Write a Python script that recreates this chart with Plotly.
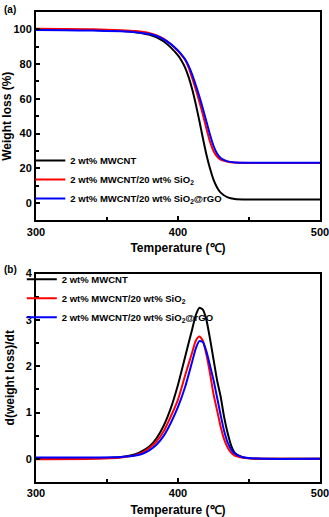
import plotly.graph_objects as go
from plotly.subplots import make_subplots

# ---- TGA (panel a) ----
TGA_T = [300, 320, 340, 360, 370, 380, 385, 390, 395, 400, 402.5, 405, 407.5, 410, 412.5,
         415, 417.5, 420, 422.5, 425, 427.5, 430, 435, 440, 450, 475, 500]
TGA_MWCNT = [100.0, 99.9, 99.6, 99.0, 98.4, 96.9, 95.4, 93.0, 89.5, 85.0, 82.0, 78.0, 72.5, 65.5, 57.0,
             47.5, 37.5, 28.0, 20.0, 13.5, 9.0, 6.0, 3.3, 2.4, 2.1, 2.0, 2.0]
TGA_SIO2 = [100.3, 100.2, 100.0, 99.5, 99.0, 97.8, 96.5, 94.5, 91.5, 87.5, 85.2, 82.5, 78.0, 72.0, 65.5,
            58.5, 51.0, 43.0, 35.5, 30.0, 26.8, 25.0, 23.8, 23.3, 23.1, 23.0, 23.0]
TGA_RGO = [99.6, 99.5, 99.3, 98.9, 98.4, 97.3, 96.2, 94.3, 91.5, 87.8, 85.5, 82.8, 79.0, 74.0, 68.0,
           61.5, 54.5, 47.0, 39.5, 33.0, 28.5, 26.0, 24.0, 23.4, 23.2, 23.2, 23.2]

# ---- DTG (panel b) ----
DTG_T = [300, 340, 360, 370, 375, 380, 385, 390, 395, 400, 405, 410, 412.5, 415, 417.5, 420,
         422.5, 425, 427.5, 430, 432.5, 435, 437.5, 440, 445, 450, 460, 500]
DTG_MWCNT = [0.0, 0.01, 0.04, 0.10, 0.17, 0.27, 0.45, 0.72, 1.10, 1.60, 2.20, 2.80, 3.10, 3.26, 3.22, 3.00,
             2.60, 2.15, 1.70, 1.35, 0.90, 0.55, 0.28, 0.13, 0.04, 0.01, 0.0, 0.0]
DTG_SIO2 = [-0.01, 0.0, 0.03, 0.08, 0.14, 0.24, 0.38, 0.60, 0.92, 1.28, 1.80, 2.30, 2.55, 2.64, 2.55, 2.25,
            1.85, 1.40, 1.05, 0.70, 0.42, 0.24, 0.13, 0.07, 0.03, 0.01, 0.0, 0.0]
DTG_RGO = [0.03, 0.03, 0.04, 0.07, 0.11, 0.19, 0.31, 0.50, 0.78, 1.12, 1.55, 2.10, 2.38, 2.54, 2.52, 2.32,
           2.02, 1.70, 1.33, 0.95, 0.60, 0.35, 0.20, 0.11, 0.04, 0.02, 0.0, 0.0]

NAMES = ["2 wt% MWCNT", "2 wt% MWCNT/20 wt% SiO<sub>2</sub>", "2 wt% MWCNT/20 wt% SiO<sub>2</sub>@rGO"]
COLORS = ["#000000", "#ff0000", "#0000ff"]

FONT = "Arial, 'Liberation Sans', sans-serif"

fig = make_subplots(rows=2, cols=1, vertical_spacing=0.113)

for name, color, y in zip(NAMES, COLORS, [TGA_MWCNT, TGA_SIO2, TGA_RGO]):
    fig.add_trace(go.Scatter(x=TGA_T, y=y, mode="lines", name=name, line=dict(color=color, width=2, shape="spline", smoothing=0.6),
                             legend="legend"), row=1, col=1)
for name, color, y in zip(NAMES, COLORS, [DTG_MWCNT, DTG_SIO2, DTG_RGO]):
    fig.add_trace(go.Scatter(x=DTG_T, y=y, mode="lines", name=name, line=dict(color=color, width=2, shape="spline", smoothing=0.6),
                             legend="legend2"), row=2, col=1)

axis_style = dict(
    showline=True, linewidth=2, linecolor="#000000", mirror=True,
    ticks="inside", ticklen=4, tickwidth=1.5, tickcolor="#000000",
    showgrid=False, zeroline=False, automargin=False, ticklabeloverflow="allow",
    tickfont=dict(family=FONT, size=11, color="#000000", weight="bold"),
    title_font=dict(family=FONT, size=12, color="#000000", weight="bold"),
)
fig.update_xaxes(**axis_style, range=[300, 500], dtick=100, title_text="Temperature (℃)", title_standoff=7,
                 minor=dict(dtick=50, ticks="inside", ticklen=3, tickcolor="#000000"))
fig.update_yaxes(**axis_style)
fig.update_yaxes(range=[-10, 110], tickvals=[0, 20, 40, 60, 80, 100], title_text="Weight loss (%)", title_standoff=3,
                 minor=dict(tickvals=[10, 30, 50, 70, 90], ticks="inside", ticklen=3, tickcolor="#000000"), row=1, col=1)
fig.update_yaxes(range=[-0.5, 4], tickvals=[0, 1, 2, 3, 4], title_text="d(weight loss)/dt", title_standoff=8,
                 minor=dict(tickvals=[-0.5, 0.5, 1.5, 2.5, 3.5], ticks="inside", ticklen=3, tickcolor="#000000"), row=2, col=1)

legend_style = dict(bgcolor="rgba(0,0,0,0)", font=dict(family=FONT, size=9.5, color="#000000", weight="bold"),
                    xanchor="left", yanchor="top", tracegroupgap=0, itemwidth=30)
fig.update_layout(
    width=329, height=517,
    margin=dict(l=36, r=9, t=12, b=35),
    paper_bgcolor="#ffffff", plot_bgcolor="#ffffff",
    legend=dict(**legend_style, x=-0.02, y=0.715),
    legend2=dict(**legend_style, x=-0.05, y=0.462),
    annotations=[
        dict(text="(a)", x=-0.12, y=1.022, xref="paper", yref="paper", xanchor="left", yanchor="top",
             showarrow=False, font=dict(family=FONT, size=10, color="#000000", weight="bold")),
        dict(text="(b)", x=-0.12, y=0.468, xref="paper", yref="paper", xanchor="left", yanchor="top",
             showarrow=False, font=dict(family=FONT, size=10, color="#000000", weight="bold")),
    ],
)

fig.write_html("out.html", config={"displayModeBar": False},
               post_script="document.body.style.margin='0';document.body.style.overflow='hidden';")
